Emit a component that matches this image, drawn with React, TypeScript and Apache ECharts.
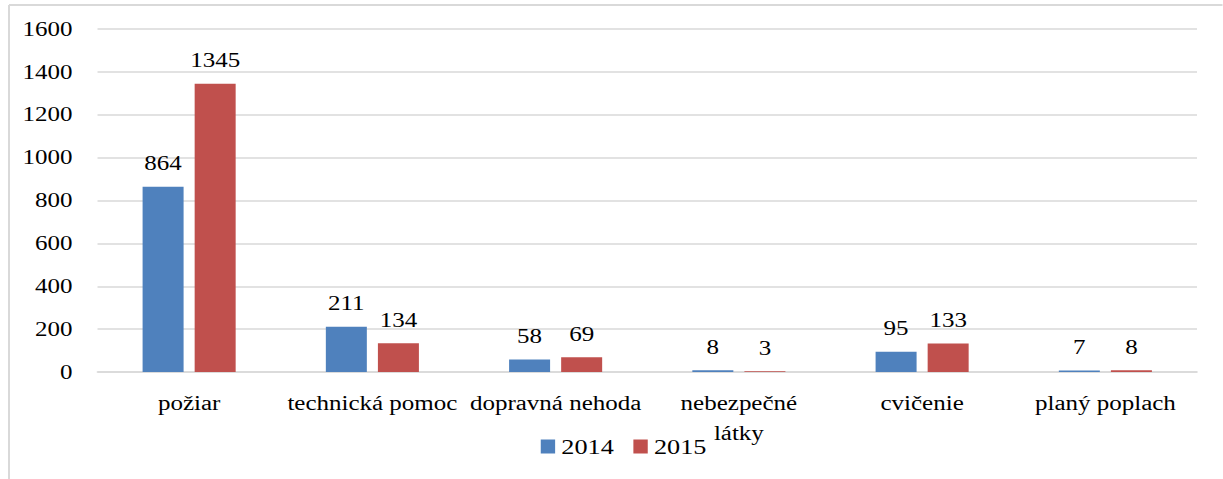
import React, { useEffect, useRef } from "react";
import * as echarts from "echarts";

const categories = ["požiar", "technická pomoc", "dopravná nehoda", "nebezpečné\nlátky", "cvičenie", "planý poplach"];
const series2014 = [864, 211, 58, 8, 95, 7];
const series2015 = [1345, 134, 69, 3, 133, 8];
const seriesNames = ["2014", "2015"];
const yMax = 1600;
const yInterval = 200;

const SCALE_X = 1.25;
const OUT_W = 1223;
const OUT_H = 479;
const IN_W = OUT_W / SCALE_X;
const FONT = "Liberation Serif";

export default function App() {
  const ref = useRef<HTMLDivElement>(null);
  useEffect(() => {
    if (!ref.current) return;
    const chart = echarts.init(ref.current, undefined, { renderer: "svg" });
    const labelStyle = {
      show: true,
      position: "top",
      distance: 13,
      fontFamily: FONT,
      fontSize: 20,
      color: "#000",
    };
    chart.setOption({
      animation: false,
      backgroundColor: "#fff",
      textStyle: { fontFamily: FONT },
      grid: { left: 78, right: IN_W - 958, top: 29, bottom: 107, containLabel: false },
      legend: {
        data: seriesNames,
        left: 427.6,
        top: 431,
        itemWidth: 11.5,
        itemHeight: 14,
        itemGap: 15.6,
        icon: "rect",
        textStyle: { fontFamily: FONT, fontSize: 21, color: "#000" },
      },
      xAxis: {
        type: "category",
        data: categories,
        axisLine: { show: true, lineStyle: { color: "#d9d9d9", width: 1.5 } },
        axisTick: { show: false },
        axisLabel: {
          interval: 0,
          margin: 16,
          fontFamily: FONT,
          fontSize: 20,
          color: "#000",
          lineHeight: 30,
        },
      },
      yAxis: {
        type: "value",
        min: 0,
        max: yMax,
        interval: yInterval,
        axisLine: { show: false },
        axisTick: { show: false },
        axisLabel: {
          margin: 20,
          fontFamily: FONT,
          fontSize: 20,
          color: "#000",
          formatter: (v: number) => String(v),
        },
        splitLine: { show: true, lineStyle: { color: "#d9d9d9", width: 1.5 } },
      },
      series: [
        {
          name: seriesNames[0],
          type: "bar",
          data: series2014,
          barWidth: 32.8,
          barGap: "27%",
          itemStyle: { color: "#4f81bd" },
          label: labelStyle,
        },
        {
          name: seriesNames[1],
          type: "bar",
          data: series2015,
          barWidth: 32.8,
          barGap: "27%",
          itemStyle: { color: "#c0504d" },
          label: labelStyle,
        },
      ],
      graphic: [
        {
          type: "line",
          shape: { x1: 7.2, y1: 5, x2: 7.2, y2: OUT_H + 10 },
          style: { stroke: "#d9d9d9", lineWidth: 1.6 },
          silent: true,
        },
        {
          type: "line",
          shape: { x1: 7.2, y1: 5, x2: IN_W + 10, y2: 5 },
          style: { stroke: "#d9d9d9", lineWidth: 2 },
          silent: true,
        },
      ],
    });
    return () => chart.dispose();
  }, []);
  return (
    <div
      style={{
        position: "absolute",
        left: 0,
        top: 0,
        width: OUT_W,
        height: OUT_H,
        overflow: "hidden",
        background: "#fff",
      }}
    >
      <div
        ref={ref}
        style={{
          width: IN_W,
          height: OUT_H,
          transform: `scaleX(${SCALE_X})`,
          transformOrigin: "0 0",
        }}
      />
    </div>
  );
}
